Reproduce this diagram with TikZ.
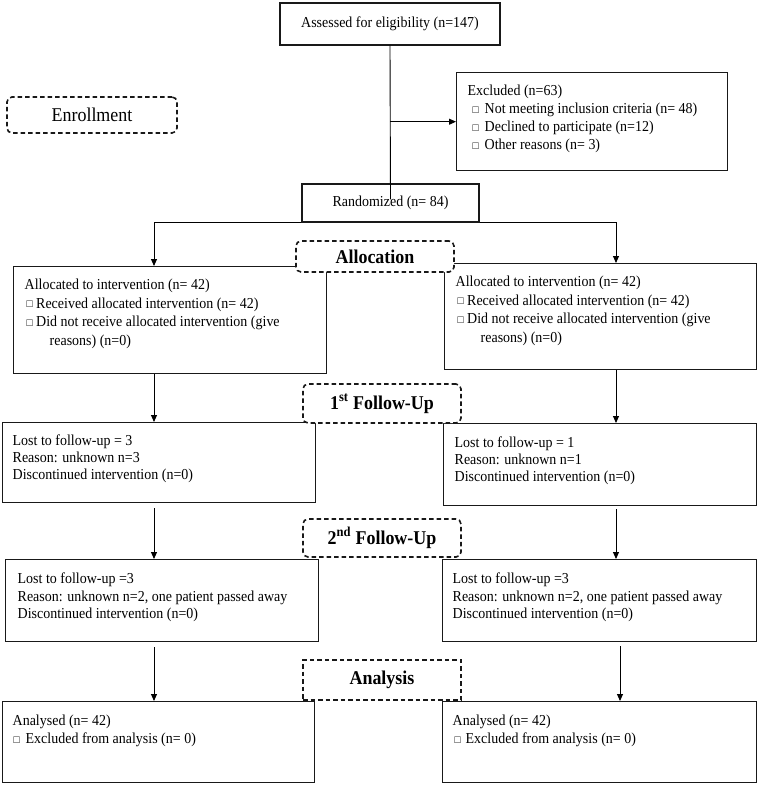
\documentclass[tikz,border=0pt]{standalone}
\usepackage{fontspec}
\setmainfont{Liberation Serif}[FakeStretch=0.92]
\usetikzlibrary{arrows.meta}
\newcommand{\cbx}[1]{\makebox[#1][l]{\raisebox{0.3pt}{\scalebox{0.72}{□}}}}
% width, height, left pad, first baseline, baselineskip, content
\newcommand{\bxc}[6]{\parbox[t][#2][t]{#1}{\fontsize{15.2}{#5}\selectfont\raggedright\leftskip=#3\relax\parindent=0pt\rule{0pt}{#4}#6}}
\tikzset{
  box/.style={draw=black!90, line width=1.4pt, inner sep=0pt, anchor=north west, fill=white},
  cbox/.style={draw=black!90, line width=1.4pt, inner sep=0pt, fill=white, font=\fontsize{15.2}{17}\selectfont},
  lbl/.style={draw=black!90, line width=1.6pt, dash pattern=on 4.5pt off 3pt, fill=white, inner sep=0pt, font=\fontsize{19.5}{21}\selectfont},
  lblb/.style={lbl, font=\fontsize{19.5}{21}\selectfont\bfseries},
  conn/.style={line width=0.9pt, black},
  arr/.style={conn, -{Triangle[length=7pt,width=6pt]}}
}
\begin{document}
\begin{tikzpicture}[x=1pt, y=-1pt]
\useasboundingbox (0,0) rectangle (757,785);
% column coordinates
\coordinate (Lx) at (154,0);
\coordinate (Rx) at (616,0);
\coordinate (Rx2) at (620,0);
% top
\node[cbox, minimum width=220pt, minimum height=42pt] (assess) at (390,24) {Assessed for eligibility (n=147)};
\node[box] (excl) at (456,72) {\bxc{271pt}{98pt}{11pt}{23pt}{18pt}{Excluded (n=63)\\
\hspace*{5pt}\cbx{12pt}Not meeting inclusion criteria (n= 48)\\
\hspace*{5pt}\cbx{12pt}Declined to participate (n=12)\\
\hspace*{5pt}\cbx{12pt}Other reasons (n= 3)}};
\node[cbox, minimum width=177pt, minimum height=38pt] (rand) at (390.5,203) {Randomized (n= 84)};
% allocation boxes
\node[box] (lalloc) at (13,266) {\bxc{313pt}{107pt}{11pt}{23pt}{18.5pt}{Allocated to intervention (n= 42)\\
\hspace*{2pt}\cbx{9.5pt}Received allocated intervention (n= 42)\\
\hspace*{2pt}\cbx{9.5pt}Did not receive allocated intervention (give\\
\hspace*{25pt}reasons) (n=0)}};
\node[box] (ralloc) at (444,263) {\bxc{311.5pt}{106pt}{11pt}{23pt}{18.5pt}{Allocated to intervention (n= 42)\\
\hspace*{2pt}\cbx{9.5pt}Received allocated intervention (n= 42)\\
\hspace*{2pt}\cbx{9.5pt}Did not receive allocated intervention (give\\
\hspace*{25pt}reasons) (n=0)}};
% first follow-up
\node[box] (lfu1) at (2,422) {\bxc{313pt}{80pt}{10pt}{23pt}{17pt}{Lost to follow-up = 3\\
Reason: unknown n=3\\
Discontinued intervention (n=0)}};
\node[box] (rfu1) at (443,423) {\bxc{312.5pt}{82pt}{11pt}{24pt}{17pt}{Lost to follow-up = 1\\
Reason: unknown n=1\\
Discontinued intervention (n=0)}};
% second follow-up
\node[box] (lfu2) at (5,559) {\bxc{313pt}{82pt}{12pt}{24pt}{17.5pt}{Lost to follow-up =3\\
Reason: unknown n=2, one patient passed away\\
Discontinued intervention (n=0)}};
\node[box] (rfu2) at (442,559) {\bxc{313.5pt}{82pt}{10pt}{24pt}{17.5pt}{Lost to follow-up =3\\
Reason: unknown n=2, one patient passed away\\
Discontinued intervention (n=0)}};
% analysis
\node[box] (lana) at (2,701) {\bxc{312pt}{81pt}{10pt}{24pt}{18pt}{Analysed (n= 42)\\
\hspace*{1pt}\cbx{12pt}Excluded from analysis (n= 0)}};
\node[box] (rana) at (442,701) {\bxc{313.5pt}{81pt}{10pt}{24pt}{18pt}{Analysed (n= 42)\\
\hspace*{2pt}\cbx{11pt}Excluded from analysis (n= 0)}};
% connectors
\draw[conn] (assess.south) -- ([yshift=-16pt]rand.north);
\draw[arr] (assess.south |- excl.west) -- (excl.west);
\draw[arr] (rand.south west) -| (Lx |- lalloc.north);
\draw[arr] (rand.south east) -| (Rx |- ralloc.north);
\draw[arr] (Lx |- lalloc.south) -- (Lx |- lfu1.north);
\draw[arr] (Rx |- ralloc.south) -- (Rx |- rfu1.north);
\draw[arr, shorten <=5pt] (Lx |- lfu1.south) -- (Lx |- lfu2.north);
\draw[arr, shorten <=3pt] (Rx |- rfu1.south) -- (Rx |- rfu2.north);
\draw[arr, shorten <=5pt] (Lx |- lfu2.south) -- (Lx |- lana.north);
\draw[arr, shorten <=4pt] (Rx2 |- rfu2.south) -- (Rx2 |- rana.north);
% stage labels
\node[lbl, rounded corners=5pt, minimum width=170pt, minimum height=36pt] (enroll) at (92,115) {Enrollment};
\node[lblb, rounded corners=5pt, minimum width=158pt, minimum height=31pt] (allocl) at (375,256.5) {Allocation};
\node[lblb, rounded corners=5pt, minimum width=158pt, minimum height=39pt] (fu1l) at (382,403.5) {1\textsuperscript{st} Follow-Up};
\node[lblb, rounded corners=5pt, minimum width=158pt, minimum height=38pt] (fu2l) at (382,538) {2\textsuperscript{nd} Follow-Up};
\node[lblb, minimum width=158pt, minimum height=40pt] (anal) at (382,680) {Analysis};
\end{tikzpicture}
\end{document}
